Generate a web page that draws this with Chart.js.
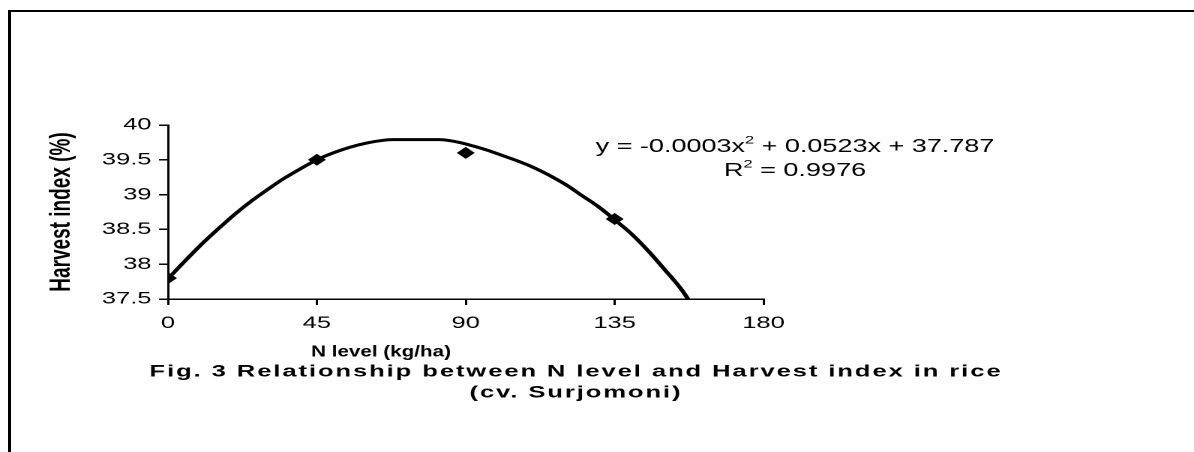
<!DOCTYPE html>
<html>
<head>
<meta charset="utf-8">
<title>Harvest index vs N level</title>
<script src="https://cdn.jsdelivr.net/npm/chart.js@4/dist/chart.umd.min.js"></script>
<style>
  html, body { margin: 0; padding: 0; background: #fff; overflow: hidden; }
  #frame {
    position: absolute; left: 8px; top: 10px; width: 1200px; height: 460px;
    border-top: 2px solid #000; border-left: 3px solid #000;
  }
  /* the source figure is stretched sideways, so draw narrow and scale */
  #wrap {
    position: absolute; left: 0; top: 0; width: 796px; height: 452px;
    transform: scaleX(1.5); transform-origin: 0 0;
  }
</style>
</head>
<body>
<div id="frame"></div>
<div id="wrap"><canvas id="harvest-chart"></canvas></div>
<script>
'use strict';

//***********Data***********
let nLevels = [0, 45, 90, 135];
let harvestIndex = [37.8, 39.5, 39.6, 38.65];

// trend curve
let trendX = [0, 5, 10, 15, 20, 25, 30, 35, 40, 45, 50, 55, 60, 65, 68, 75, 82, 87, 95, 100, 110, 120, 125, 130, 135, 140, 145, 150, 155, 157.2];
let trendY = [37.79, 38.04, 38.28, 38.5, 38.71, 38.9, 39.07, 39.23, 39.37, 39.5, 39.6, 39.68, 39.74, 39.78, 39.79, 39.79, 39.79, 39.76, 39.66, 39.58, 39.4, 39.15, 38.99, 38.83, 38.64, 38.44, 38.2, 37.93, 37.65, 37.5];

let xTicks = [0, 45, 90, 135, 180];
let yTicks = [37.5, 38, 38.5, 39, 39.5, 40];
let yTickLabels = ['37.5', '38', '38.5', '39', '39.5', '40'];

let xTitle = 'N level (kg/ha)';
let yTitle = 'Harvest index (%)';
let captionLines = ['Fig. 3 Relationship between N level and Harvest index in rice', '(cv. Surjomoni)'];
let equationText = ['y = -0.0003x', '2', ' + 0.0523x + 37.787'];
let rSquaredText = ['R', '2', ' = 0.9976'];

//***********Helpers***********
function toPoints(xs, ys) {
  let pts = [];
  for (let i = 0; i < xs.length; i++) {
    pts.push({ x: xs[i], y: ys[i] });
  }
  return pts;
}

// draws "base + superscript + rest" centred on cx
function drawSuperText(ctx, parts, cx, cy, size) {
  let mainFont = size + 'px "Liberation Sans", Arial, sans-serif';
  let supFont = Math.round(size * 0.62) + 'px "Liberation Sans", Arial, sans-serif';
  ctx.font = mainFont;
  let w1 = ctx.measureText(parts[0]).width;
  let w3 = ctx.measureText(parts[2]).width;
  ctx.font = supFont;
  let w2 = ctx.measureText(parts[1]).width;
  let x = cx - (w1 + w2 + w3) / 2;
  ctx.textAlign = 'left';
  ctx.font = mainFont;
  ctx.fillText(parts[0], x, cy);
  ctx.font = supFont;
  ctx.fillText(parts[1], x + w1, cy - size * 0.35);
  ctx.font = mainFont;
  ctx.fillText(parts[2], x + w1 + w2, cy);
}

let textPlugin = {
  id: 'figureText',
  afterDraw(chart) {
    let ctx = chart.ctx;
    let area = chart.chartArea;
    ctx.save();
    ctx.fillStyle = '#000';
    ctx.textBaseline = 'middle';

    drawSuperText(ctx, equationText, 530, 147, 18);
    drawSuperText(ctx, rSquaredText, 530, 171, 18);

    // x title sits left of the plot centre and is a little narrower
    ctx.save();
    ctx.translate(area.left + 142, 352);
    ctx.scale(0.86, 1);
    ctx.textAlign = 'center';
    ctx.font = 'bold 16px "Liberation Sans", Arial, sans-serif';
    ctx.fillText(xTitle, 0, 0);
    ctx.restore();

    ctx.textAlign = 'center';
    ctx.font = 'bold 17px "Liberation Sans", Arial, sans-serif';
    ctx.letterSpacing = '1.3px';
    ctx.fillText(captionLines[0], 384, 372);
    ctx.fillText(captionLines[1], 384, 393);
    ctx.restore();
  }
};

//***********Chart***********
Chart.defaults.font.family = '"Liberation Sans", Arial, sans-serif';
Chart.defaults.color = '#000';

let ctx = document.getElementById('harvest-chart').getContext('2d');

let myChartObj = {
  type: 'scatter',
  data: {
    datasets: [{
      label: 'Harvest index',
      data: toPoints(nLevels, harvestIndex),
      pointStyle: 'rectRot',
      pointRadius: 6,
      backgroundColor: '#000',
      borderColor: '#000',
      borderWidth: 0,
      order: 1
    },
    {
      label: 'Poly. trend',
      data: toPoints(trendX, trendY),
      showLine: true,
      pointRadius: 0,
      borderColor: '#000',
      borderWidth: 3,
      cubicInterpolationMode: 'monotone',
      order: 2
    }]
  },
  options: {
    responsive: true,
    maintainAspectRatio: false,
    devicePixelRatio: 2,
    animation: false,
    layout: {
      padding: { left: 0, top: 125, right: 287, bottom: 0 }
    },
    plugins: {
      legend: { display: false },
      tooltip: { enabled: false }
    },
    scales: {
      x: {
        type: 'linear',
        min: 0,
        max: 180,
        afterFit: function (scale) { scale.height = 153; },
        afterBuildTicks: function (scale) {
          scale.ticks = xTicks.map(function (v) { return { value: v }; });
        },
        ticks: { font: { size: 17 }, padding: 8 },
        grid: { drawOnChartArea: false, tickLength: 6, color: '#000', lineWidth: 1.5 },
        border: { color: '#000', width: 1.5 }
      },
      y: {
        type: 'linear',
        min: 37.5,
        max: 40,
        afterFit: function (scale) { scale.width = 112; },
        afterBuildTicks: function (scale) {
          scale.ticks = yTicks.map(function (v) { return { value: v }; });
        },
        ticks: {
          font: { size: 17 },
          padding: 5,
          callback: function (value, index) { return yTickLabels[index]; }
        },
        grid: { drawOnChartArea: false, tickLength: 6, color: '#000', lineWidth: 1.5 },
        border: { color: '#000', width: 1.5 },
        title: {
          display: true,
          text: yTitle,
          font: { size: 19, weight: 'bold' },
          padding: { top: 30, bottom: 0 }
        }
      }
    }
  },
  plugins: [textPlugin]
};

new Chart(ctx, myChartObj);
</script>
</body>
</html>
